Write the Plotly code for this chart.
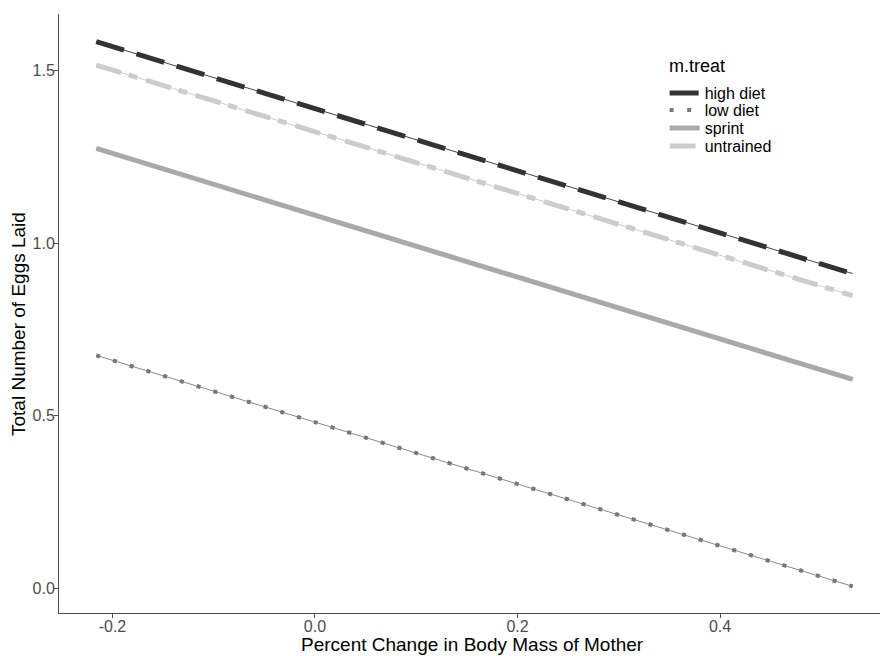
import plotly.graph_objects as go

# Data (fitted straight lines: start & end points)
treatments = ["high diet", "low diet", "sprint", "untrained"]
x_ends = [-0.216, 0.531]
y_high_diet = [1.585, 0.912]
y_low_diet = [0.675, 0.005]
y_sprint = [1.275, 0.605]
y_untrained = [1.517, 0.848]
series_values = [y_high_diet, y_low_diet, y_sprint, y_untrained]

x_tick_vals = [-0.2, 0.0, 0.2, 0.4]
x_tick_text = ["-0.2", "0.0", "0.2", "0.4"]
y_tick_vals = [0.0, 0.5, 1.0, 1.5]
y_tick_text = ["0.0", "0.5", "1.0", "1.5"]

styles = {
    "high diet": dict(color="#333333", width=5, dash="29px,13px", thin="#444444"),
    "low diet": dict(color="#777777", width=4, dash="4px,13.5px", thin="#8a8a8a"),
    "sprint": dict(color="#a9a9a9", width=5, dash="solid", thin="#a9a9a9"),
    "untrained": dict(color="#cccccc", width=5, dash="26px,8px,9px,9px", thin="#cccccc"),
}

# one small legend box per entry so the rows can be packed like the reference
legend_ids = ["legend", "legend2", "legend3", "legend4"]
legend_rows_y = [0.8681, 0.8397, 0.8097, 0.7796]

fig = go.Figure()
for name, ys, lid in zip(treatments, series_values, legend_ids):
    st = styles[name]
    fig.add_trace(go.Scatter(x=x_ends, y=ys, mode="lines", showlegend=False,
                             hoverinfo="skip",
                             line=dict(color=st["thin"], width=1)))
    fig.add_trace(go.Scatter(x=x_ends, y=ys, mode="lines", name=name, legend=lid,
                             line=dict(color=st["color"], width=st["width"], dash=st["dash"])))

font_family = "Liberation Sans, Arial, sans-serif"
legend_common = dict(x=0.7377, xanchor="left", yanchor="middle",
                     bgcolor="rgba(0,0,0,0)", itemwidth=30,
                     font=dict(size=16, color="black", family=font_family))
legend_layout = {}
for lid, ly in zip(legend_ids, legend_rows_y):
    legend_layout[lid] = dict(legend_common, y=ly)

axis_common = dict(showgrid=False, zeroline=False, showline=True, linecolor="#4d4d4d",
                   linewidth=1, ticks="outside", ticklen=4, tickcolor="#4d4d4d",
                   tickfont=dict(size=16, color="#4d4d4d"), automargin=False)

fig.update_layout(
    width=882, height=656,
    margin=dict(l=59, r=2, t=14, b=43),
    plot_bgcolor="white", paper_bgcolor="white",
    font=dict(family=font_family, color="#4d4d4d", size=16),
    xaxis=dict(axis_common, range=[-0.2528, 0.558], tickvals=x_tick_vals,
               ticktext=x_tick_text, ticklabelstandoff=-5),
    yaxis=dict(axis_common, range=[-0.0723, 1.665], tickvals=y_tick_vals,
               ticktext=y_tick_text, ticklabelstandoff=-4),
    annotations=[
        dict(text="Percent Change in Body Mass of Mother", xref="paper", yref="paper",
             x=0.504, y=-0.0534, xanchor="center", yanchor="middle", showarrow=False,
             font=dict(size=19, color="black", family=font_family)),
        dict(text="Total Number of Eggs Laid", xref="paper", yref="paper",
             x=-0.0487, y=0.4825, xanchor="center", yanchor="middle", showarrow=False,
             textangle=-90, font=dict(size=19, color="black", family=font_family)),
        dict(text="m.treat", xref="paper", yref="paper",
             x=0.7406, y=0.9132, xanchor="left", yanchor="middle", showarrow=False,
             font=dict(size=18, color="black", family=font_family)),
    ],
    **legend_layout,
)

fig.write_html("out.html", post_script="document.body.style.margin='0';",
               config={"displayModeBar": False})
